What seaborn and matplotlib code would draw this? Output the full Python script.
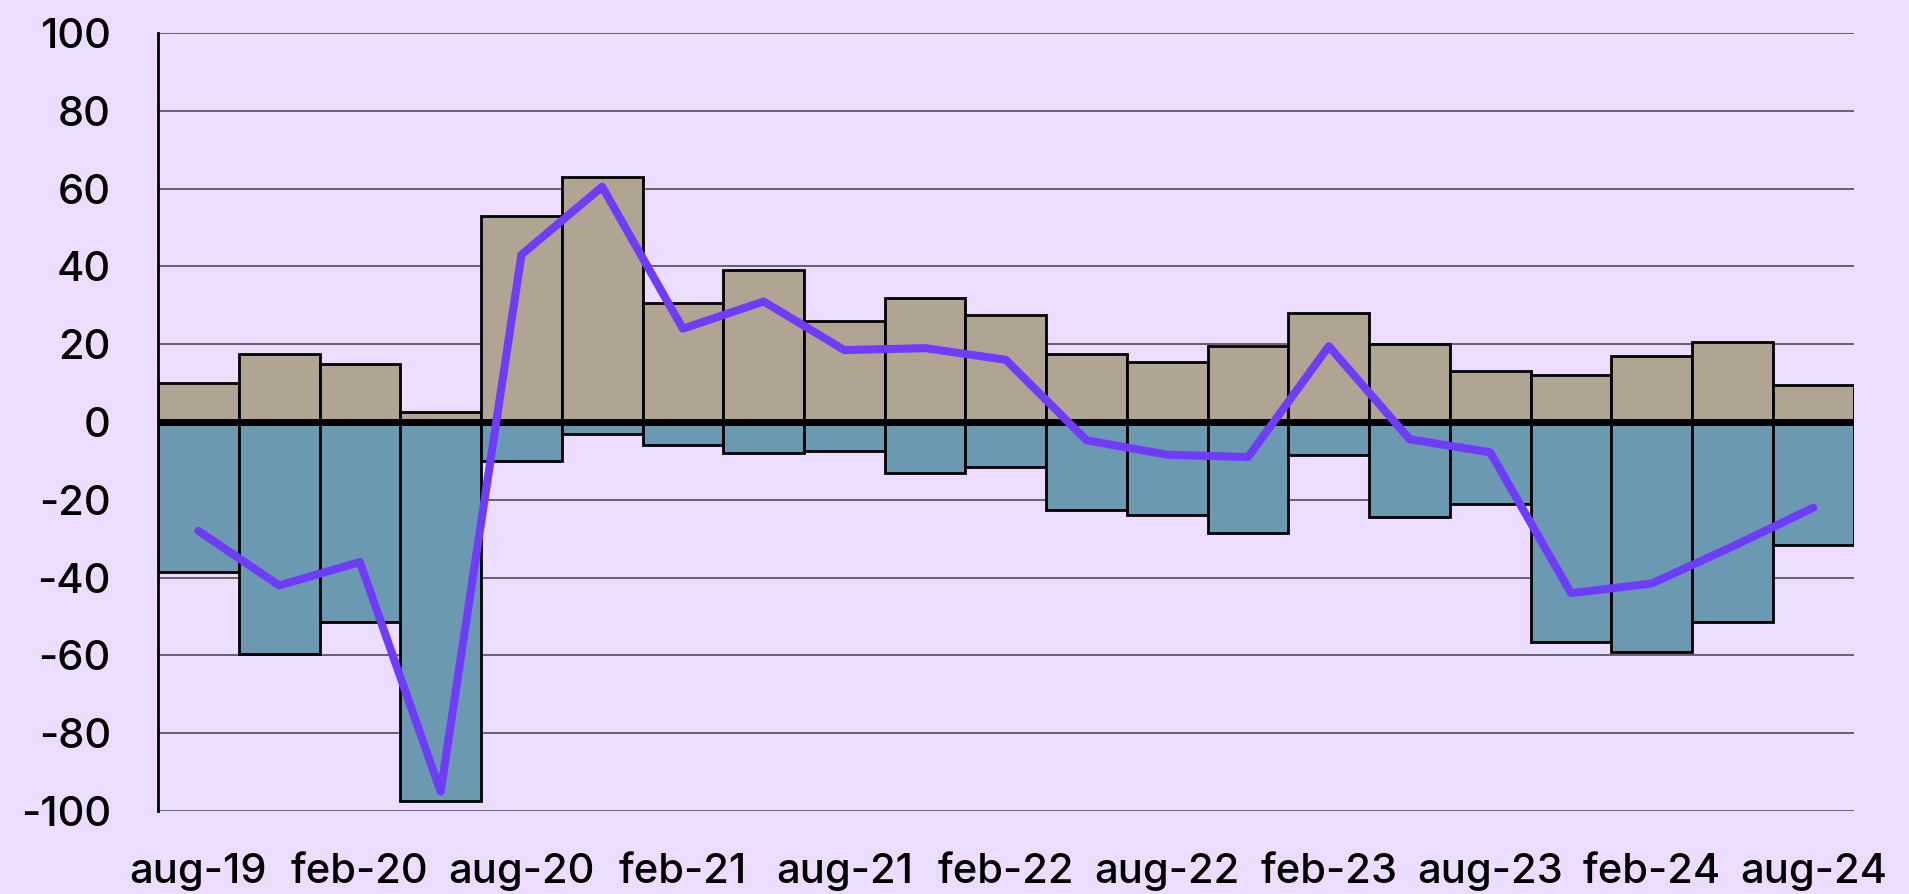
import seaborn as sns
import matplotlib.pyplot as plt
import pandas as pd
import numpy as np

# quarterly periods, aug-19 .. aug-24
periods = ['aug-19', 'nov-19', 'feb-20', 'may-20', 'aug-20', 'nov-20', 'feb-21',
           'may-21', 'aug-21', 'nov-21', 'feb-22', 'may-22', 'aug-22', 'nov-22',
           'feb-23', 'may-23', 'aug-23', 'nov-23', 'feb-24', 'may-24', 'aug-24']
positive = [10, 17.5, 15, 2.5, 53, 63, 30.5, 39, 26, 32, 27.5, 17.5, 15.5, 19.5,
            28, 20, 13, 12, 17, 20.5, 9.5]
negative = [-38.5, -59.5, -51.5, -97.5, -10, -3, -6, -8, -7.5, -13, -11.5, -22.5,
            -24, -28.5, -8.5, -24.5, -21, -56.5, -59, -51.5, -31.5]
balance = [-28, -42, -36, -95, 43, 60.5, 24, 31, 18.5, 19, 16, -4.7, -8.4, -9,
           19.5, -4.4, -7.8, -44, -41.5, -32, -22]

bg = '#ECDDFE'
df = pd.DataFrame({'period': periods, 'pos': positive, 'neg': negative,
                   'bal': balance, 'i': np.arange(len(periods))})

sns.set_style('white')
plt.rcParams['font.family'] = ['Inter', 'DejaVu Sans']
plt.rcParams['font.weight'] = 500
plt.rcParams['axes.unicode_minus'] = False
plt.rcParams['xtick.labelcolor'] = 'black'
plt.rcParams['ytick.labelcolor'] = 'black'

fig = plt.figure(figsize=(19.09, 8.94), dpi=100, facecolor=bg)
ax = fig.add_axes([0.0828, 0.0928, 0.8882, 0.8702])
ax.set_facecolor(bg)

for v in range(-100, 101, 20):
    if v != 0:
        ax.axhline(v, color='#5E5566', lw=1.3, zorder=0)

sns.barplot(data=df, x='period', y='pos', color='#B0A593', width=1,
            edgecolor='black', linewidth=2, saturation=1, ax=ax, zorder=2)
sns.barplot(data=df, x='period', y='neg', color='#6C99B2', width=1,
            edgecolor='black', linewidth=2, saturation=1, ax=ax, zorder=2)
ax.axhline(0, color='black', lw=5, zorder=3)
sns.lineplot(data=df, x='i', y='bal', color='#6E3CFA', lw=5.8, ax=ax, zorder=4,
             solid_capstyle='round', solid_joinstyle='round')

ax.set_xlim(-0.5, len(periods) - 0.5)
ax.set_ylim(-100, 100)
ax.set_yticks(range(-100, 101, 20))
ax.set_xticks(range(0, len(periods), 2))
ax.set_xticklabels(periods[::2])
ax.set_xlabel('')
ax.set_ylabel('')
ax.tick_params(axis='y', length=10, width=2, color='black', labelcolor='black',
               labelsize=30, pad=24)
ax.tick_params(axis='x', length=0, labelcolor='black', labelsize=30, pad=30)
for s in ['top', 'right', 'bottom']:
    ax.spines[s].set_visible(False)
ax.spines['left'].set_linewidth(2)
ax.spines['left'].set_color('black')

plt.savefig('out.png', dpi=100, facecolor=bg)
